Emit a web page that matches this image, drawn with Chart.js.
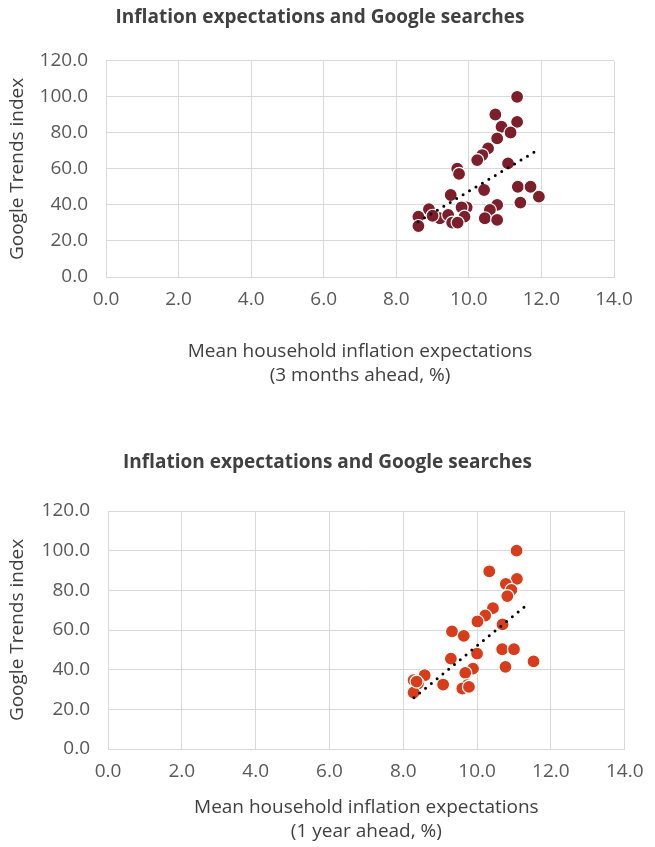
<!DOCTYPE html>
<html>
<head>
<meta charset="utf-8">
<script src="https://cdn.jsdelivr.net/npm/chart.js@4.4.0/dist/chart.umd.min.js"></script>
<style>
  html, body { margin: 0; padding: 0; background: #fff; }
  .box { position: absolute; left: 0; width: 655px; }
  #b1 { top: 0; height: 440px; }
  #b2 { top: 440px; height: 407px; }
</style>
</head>
<body>
<div class="box" id="b1"><canvas id="chart1"></canvas></div>
<div class="box" id="b2"><canvas id="chart2"></canvas></div>
<script>
// 3 months ahead
var x3m = [11.33, 10.73, 11.33, 10.90, 11.15, 10.78, 10.53, 10.37, 10.23, 11.08, 9.68, 9.73, 10.42, 11.35, 11.70, 11.93, 11.42, 9.50, 10.78, 9.94, 9.80, 10.58, 8.90, 8.61, 9.20, 9.43, 9.88, 10.44, 10.78, 9.54, 9.69, 8.61, 9.00];
var y3m = [100, 90.2, 86.1, 83.4, 80.2, 76.9, 71.4, 67.7, 64.9, 63.1, 60.1, 57.2, 48.3, 50.1, 50.1, 44.6, 41.3, 45.5, 40.0, 38.7, 38.7, 37.2, 37.6, 33.5, 32.6, 34.4, 33.5, 32.6, 31.7, 30.2, 30.2, 28.3, 34.0];
var trend3mX = [8.6, 11.95];
var trend3mY = [30.7, 71.1];

// 1 year ahead
var x1y = [11.07, 10.33, 11.08, 10.78, 10.93, 10.82, 10.43, 10.22, 10.01, 10.69, 9.32, 9.64, 10.00, 10.68, 11.00, 11.53, 10.77, 9.29, 9.89, 9.68, 8.58, 8.28, 8.40, 9.08, 9.73, 9.60, 9.78, 8.28, 8.36];
var y1y = [100, 89.6, 85.8, 83.2, 80.2, 77.1, 71.0, 67.3, 64.3, 62.8, 59.3, 57.0, 48.1, 50.3, 50.3, 44.2, 41.4, 45.6, 40.5, 38.4, 37.2, 34.7, 33.0, 32.5, 32.2, 30.5, 31.3, 28.5, 34.0];
var trend1yX = [8.29, 11.38];
var trend1yY = [25.8, 73.2];

var xTicks = [0, 2, 4, 6, 8, 10, 12, 14];
var yTicks = [0, 20, 40, 60, 80, 100, 120];

function pts(xs, ys) {
    return xs.map(function (x, i) { return {x: x, y: ys[i]}; });
}

var FONT = "'Open Sans', sans-serif";
var tickFont = {family: FONT, size: 19};
var gridColor = '#d9d9d9';

function makeChart(id, o) {
    return new Chart(document.getElementById(id), {
        type: 'scatter',
        data: {
            datasets: [
                {
                    data: pts(o.tx, o.ty),
                    showLine: true,
                    borderColor: '#000',
                    borderWidth: 3,
                    borderDash: [0, 7.5],
                    borderCapStyle: 'round',
                    pointRadius: 0,
                    order: 0
                },
                {
                    data: pts(o.xs, o.ys),
                    backgroundColor: o.color,
                    borderColor: '#fff',
                    borderWidth: 1.2,
                    pointRadius: 6.5,
                    order: 1
                }
            ]
        },
        options: {
            responsive: true,
            maintainAspectRatio: false,
            animation: false,
            layout: {padding: {left: 0, right: o.padRight, top: 0, bottom: 0}},
            plugins: {
                legend: {display: false},
                tooltip: {enabled: false},
                title: {
                    display: true,
                    text: 'Inflation expectations and Google searches',
                    color: '#404040',
                    font: {family: FONT, size: 19, weight: 'bold'},
                    padding: {top: o.titleTop, bottom: o.titleBottom}
                }
            },
            scales: {
                x: {
                    type: 'linear',
                    min: 0, max: 14,
                    afterBuildTicks: function (s) { s.ticks = xTicks.map(function (v) { return {value: v}; }); },
                    afterFit: function (s) { s.height = o.xHeight; },
                    grid: {color: gridColor, drawTicks: false},
                    border: {color: gridColor},
                    ticks: {
                        color: '#595959', font: tickFont, padding: 11.5,
                        callback: function (v) { return v.toFixed(1); }
                    },
                    title: {
                        display: true,
                        text: o.xTitle,
                        color: '#404040',
                        font: {family: FONT, size: 19, lineHeight: 1.263},
                        padding: {top: 0, bottom: o.xTitleBottom}
                    }
                },
                y: {
                    type: 'linear',
                    min: 0, max: 120,
                    afterBuildTicks: function (s) { s.ticks = yTicks.map(function (v) { return {value: v}; }); },
                    afterFit: function (s) { s.width = o.yWidth; },
                    grid: {color: gridColor, drawTicks: false},
                    border: {color: gridColor},
                    ticks: {
                        color: '#595959', font: tickFont, padding: 18,
                        callback: function (v) { return v.toFixed(1); }
                    },
                    title: {
                        display: true,
                        text: 'Google Trends index',
                        color: '#404040',
                        font: {family: FONT, size: 19},
                        padding: {top: 6.5, bottom: 0}
                    }
                },
                y2: {
                    type: 'linear',
                    position: 'right',
                    display: true,
                    min: 0, max: 120,
                    afterFit: function (s) { s.width = o.rightGap; },
                    grid: {display: false, drawTicks: false},
                    border: {display: false},
                    ticks: {display: false}
                }
            }
        }
    });
}

makeChart('chart1', {
    xs: x3m, ys: y3m, tx: trend3mX, ty: trend3mY,
    color: '#7d1f2b',
    xTitle: ['Mean household inflation expectations', '(3 months ahead, %)'],
    padRight: 15, rightGap: 26,
    titleTop: 6, titleBottom: 32,
    xHeight: 163, xTitleBottom: 52,
    yWidth: 106
});

makeChart('chart2', {
    xs: x1y, ys: y1y, tx: trend1yX, ty: trend1yY,
    color: '#d83d1b',
    xTitle: ['Mean household inflation expectations', '(1 year ahead, %)'],
    padRight: 0, rightGap: 22,
    titleTop: 11.6, titleBottom: 36.6,
    xHeight: 98, xTitleBottom: 3,
    yWidth: 108
});
</script>
</body>
</html>
